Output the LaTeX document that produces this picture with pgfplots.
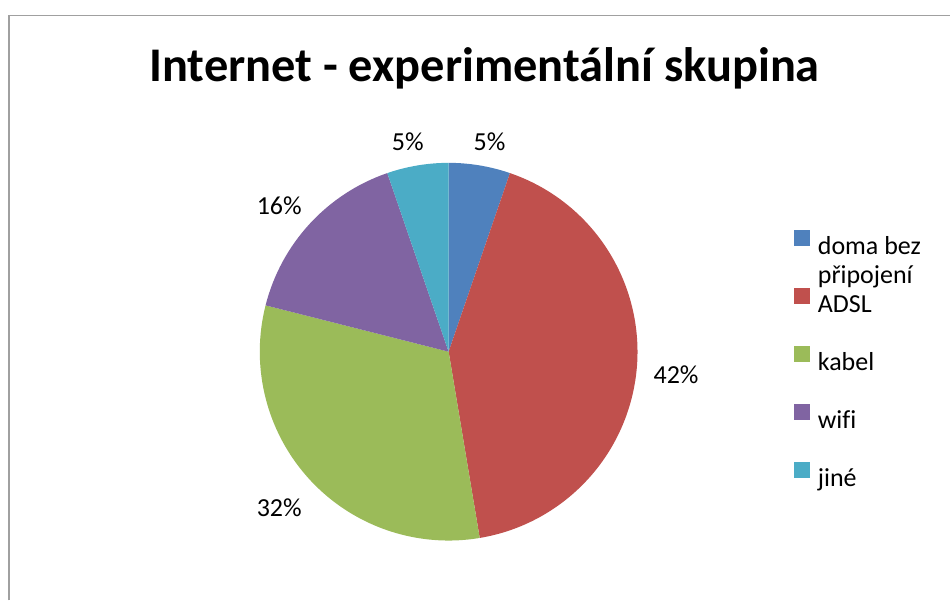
\documentclass[border=0pt]{standalone}
\usepackage{pgfplots}
\pgfplotsset{compat=1.18}
\usepackage{pgfplotstable}
\usepackage{fontspec}
\setmainfont{Carlito}[Ligatures=NoCommon]
\definecolor{pie0}{HTML}{4F81BD}
\definecolor{pie1}{HTML}{C0504D}
\definecolor{pie2}{HTML}{9BBB59}
\definecolor{pie3}{HTML}{8064A2}
\definecolor{pie4}{HTML}{4BACC6}
\definecolor{frame}{HTML}{A0A0A0}

\pgfplotstableread{
label value
doma 1
ADSL 8
kabel 6
wifi 3
jine 1
}\piedata

\begin{document}
\begin{tikzpicture}
% totals and cumulative angles from the data
\def\total{0}
\pgfplotsforeachungrouped \i in {0,...,4}{%
  \pgfplotstablegetelem{\i}{value}\of\piedata
  \pgfmathsetmacro\total{\total+\pgfplotsretval}%
}
\def\cum{0}
\pgfplotsforeachungrouped \i in {0,...,4}{%
  \pgfplotstablegetelem{\i}{value}\of\piedata
  \pgfmathsetmacro\a{90-360*\cum/\total}%
  \pgfmathsetmacro\cum{\cum+\pgfplotsretval}%
  \pgfmathsetmacro\b{90-360*\cum/\total}%
  \pgfmathsetmacro\m{(\a+\b)/2}%
  \pgfmathsetmacro\n{\m+180}%
  \pgfmathsetmacro\xs{cos(\m)>0 ? 3.75 : -3.75}%
  \pgfmathtruncatemacro\p{round(100*\pgfplotsretval/\total)}%
  \expandafter\xdef\csname pieA\i\endcsname{\a}%
  \expandafter\xdef\csname pieB\i\endcsname{\b}%
  \expandafter\xdef\csname pieM\i\endcsname{\m}%
  \expandafter\xdef\csname pieN\i\endcsname{\n}%
  \expandafter\xdef\csname pieX\i\endcsname{\xs}%
  \expandafter\xdef\csname pieP\i\endcsname{\p}%
}
\begin{axis}[
  scale only axis, width=713.25pt, height=450.75pt,
  xmin=0, xmax=951, ymin=0, ymax=601,
  hide axis, clip=false,
  legend cell align=left,
  legend style={at={(0.8360,0.6168)}, anchor=north west, draw=none, fill=none,
    inner sep=0pt, outer sep=0pt, row sep=23.6pt, column sep=6pt,
    font=\fontsize{19.5}{22.5}\selectfont,
    nodes={inner sep=0pt, text height=14pt, text depth=2pt}},
]
\path (axis cs:0,0) rectangle (axis cs:951,601);
\draw[frame, line width=1.2pt] (axis cs:9,0) -- (axis cs:9,585.5) -- (axis cs:951,585.5);
\node[anchor=base, font=\bfseries\fontsize{36.3}{42}\selectfont] at (axis cs:485,519) {Internet - experimentální skupina};

\pgfplotsinvokeforeach{0,...,4}{
  \fill[pie#1] (axis cs:449,249) -- ++(\csname pieA#1\endcsname:141.75pt)
     arc[start angle=\csname pieA#1\endcsname, end angle=\csname pieB#1\endcsname, radius=141.75pt] -- cycle;
  \path (axis cs:449,249) ++(\csname pieM#1\endcsname:149.25pt)
     node[circle, anchor=\csname pieN#1\endcsname, inner sep=0pt,
          xshift=\csname pieX#1\endcsname pt, yshift=-3.5pt,
          font=\fontsize{19.5}{22.5}\selectfont] {\csname pieP#1\endcsname\%};
}

\addlegendimage{legend image code/.code={\fill[pie0] (0pt,0.5pt) rectangle (11.25pt,11.75pt);}}
\addlegendentry{\vtop{\hbox{doma bez}\hbox{připojení}}}
\addlegendimage{legend image code/.code={\fill[pie1] (0pt,0.5pt) rectangle (11.25pt,11.75pt);}}
\addlegendentry{ADSL}
\addlegendimage{legend image code/.code={\fill[pie2] (0pt,0.5pt) rectangle (11.25pt,11.75pt);}}
\addlegendentry{kabel}
\addlegendimage{legend image code/.code={\fill[pie3] (0pt,0.5pt) rectangle (11.25pt,11.75pt);}}
\addlegendentry{wifi}
\addlegendimage{legend image code/.code={\fill[pie4] (0pt,0.5pt) rectangle (11.25pt,11.75pt);}}
\addlegendentry{jiné}
\end{axis}
\end{tikzpicture}
\end{document}
